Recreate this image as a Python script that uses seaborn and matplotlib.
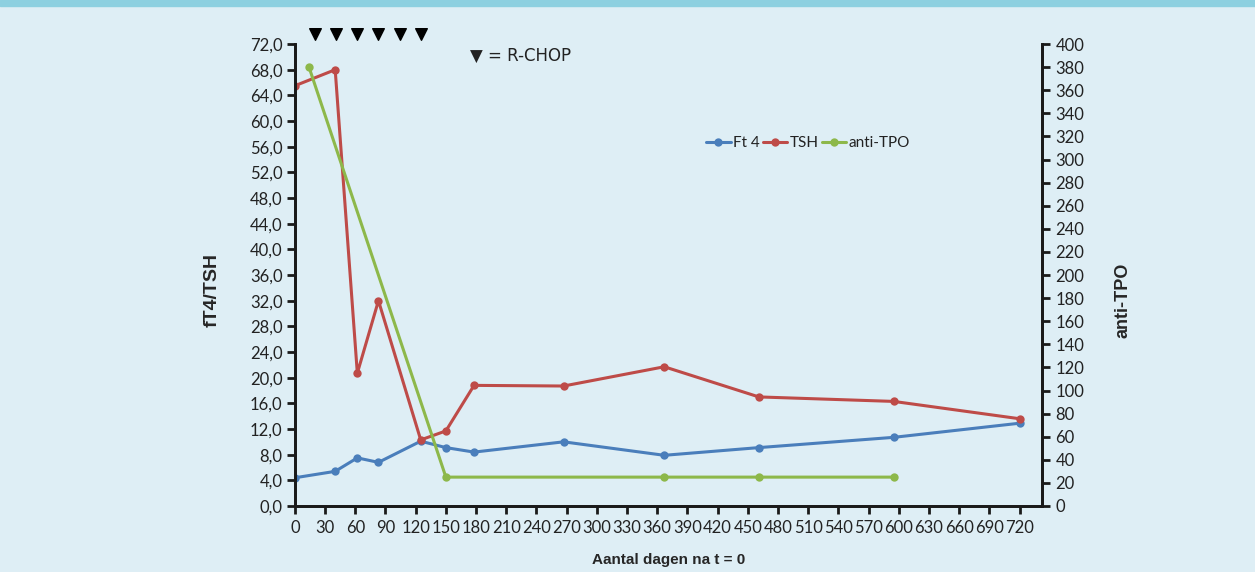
import matplotlib
matplotlib.use('Agg')
import matplotlib.pyplot as plt
import matplotlib.ticker as mticker
import pandas as pd
import seaborn as sns

# data
ft4_days = [0, 40, 62, 83, 125, 150, 178, 267, 367, 461, 595, 720]
ft4_vals = [4.4, 5.4, 7.5, 6.8, 10.1, 9.1, 8.4, 10.0, 7.9, 9.1, 10.7, 12.9]
tsh_days = [0, 40, 62, 83, 125, 150, 178, 267, 367, 461, 595, 720]
tsh_vals = [65.5, 68.0, 20.7, 32.0, 10.3, 11.7, 18.8, 18.7, 21.7, 17.0, 16.3, 13.6]
tpo_days = [14, 150, 367, 461, 595]
tpo_vals = [380, 25, 25, 25, 25]
rchop_days = [20, 41, 62, 83, 104, 125]

bg = '#deeef5'
blue, red, green = '#4a7ebb', '#be4b48', '#8db84a'

sns.set_theme(style='white')
plt.rcParams['font.family'] = ['Lato', 'DejaVu Sans']

fig = plt.figure(figsize=(12.55, 5.72), dpi=100, facecolor=bg)
ax = fig.add_axes([0.235, 0.1154, 0.595, 0.8076])
ax.set_facecolor(bg)
ax2 = ax.twinx()

ft4 = pd.DataFrame({'day': ft4_days, 'val': ft4_vals})
tsh = pd.DataFrame({'day': tsh_days, 'val': tsh_vals})
tpo = pd.DataFrame({'day': tpo_days, 'val': tpo_vals})

kw = dict(marker='o', markersize=6, markeredgewidth=0, linewidth=2.2)
sns.lineplot(data=ft4, x='day', y='val', ax=ax, color=blue, label='Ft 4', **kw)
sns.lineplot(data=tsh, x='day', y='val', ax=ax, color=red, label='TSH', **kw)
sns.lineplot(data=tpo, x='day', y='val', ax=ax2, color=green, label='anti-TPO', **kw)

# R-CHOP markers above the plot
ax.scatter(rchop_days, [73.6] * len(rchop_days), marker='v', s=70, color='black',
           clip_on=False, zorder=5)
ax.text(0.234, 0.974, '\u25bc = R-CHOP', transform=ax.transAxes, fontsize=12,
        family=['DejaVu Sans'], va='center', ha='left', color='#222222')

ax.set_xlim(0, 742)
ax.set_ylim(0, 72)
ax2.set_ylim(0, 400)
ax.set_xticks(range(0, 721, 30))
ax.set_yticks(range(0, 73, 4))
ax2.set_yticks(range(0, 401, 20))
ax.yaxis.set_major_formatter(mticker.FuncFormatter(lambda v, p: f'{v:.1f}'.replace('.', ',')))

for a in (ax, ax2):
    a.spines['top'].set_visible(False)
    for s in ('left', 'right', 'bottom'):
        a.spines[s].set_color('#1a1a1a')
        a.spines[s].set_linewidth(2)
    a.tick_params(length=6, width=2, color='#1a1a1a', labelsize=12, labelcolor='#222222',
                  direction='out')
ax.tick_params(axis='y', left=True, pad=3)
ax.tick_params(axis='x', bottom=True, pad=4)
ax2.tick_params(axis='y', right=True, pad=4)

ax.set_xlabel('Aantal dagen na t = 0', fontsize=11, fontweight='bold',
              family=['Liberation Sans'], labelpad=12)
ax.set_ylabel('fT4/TSH', fontsize=14, fontweight='bold', family=['Liberation Sans'])
ax2.set_ylabel('anti-TPO', fontsize=13, fontweight='bold', family=['Liberation Sans'])
ax.yaxis.set_label_coords(-0.100, 0.467)
ax2.yaxis.set_label_coords(1.097, 0.446)

h1, l1 = ax.get_legend_handles_labels()
h2, l2 = ax2.get_legend_handles_labels()
ax.get_legend().remove()
ax2.get_legend().remove()
ax.legend(h1 + h2, l1 + l2, loc='center', bbox_to_anchor=(0.687, 0.786), ncol=3,
          frameon=False, fontsize=11, handlelength=1.6, handletextpad=0.15,
          columnspacing=0.2, labelcolor='#222222')

# top band
fig.patches.append(plt.Rectangle((0, 1 - 6 / 572), 1, 6 / 572, transform=fig.transFigure,
                                 color='#8dd0e0', zorder=0))

fig.savefig('out.png', dpi=100, facecolor=bg)
